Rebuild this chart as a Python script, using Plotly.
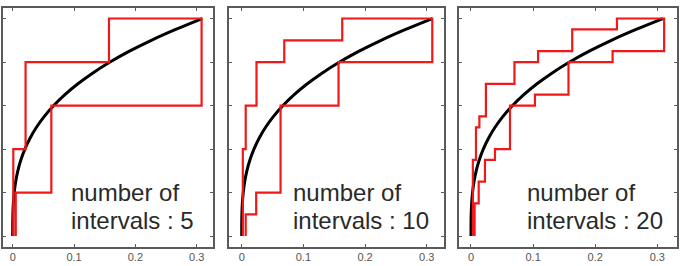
import plotly.graph_objects as go

# smooth curve (shared by all panels)
curve_x = [0, 0.00004, 0.00031, 0.00105, 0.00248, 0.00484, 0.00837, 0.01329, 0.01984,
           0.02825, 0.03875, 0.05158, 0.06696, 0.08513, 0.10633, 0.13078, 0.15872,
           0.19037, 0.22599, 0.26579, 0.309]
curve_y = [0, 0.05, 0.10, 0.15, 0.20, 0.25, 0.30, 0.35, 0.40, 0.45, 0.50, 0.55, 0.60,
           0.65, 0.70, 0.75, 0.80, 0.85, 0.90, 0.95, 1.0]

# upper / lower step bounds per panel: breakpoints (incl. end) and levels
p1_up_x = [0.001, 0.021, 0.157, 0.308]
p1_up_y = [0.4, 0.8, 1.0]
p1_lo_x = [0.005, 0.063, 0.308]
p1_lo_y = [0.2, 0.6]

p2_up_x = [0.0018, 0.0065, 0.024, 0.069, 0.163, 0.309]
p2_up_y = [0.4, 0.6, 0.8, 0.9, 1.0]
p2_lo_x = [0.0065, 0.0235, 0.063, 0.157, 0.309]
p2_lo_y = [0.1, 0.2, 0.6, 0.8]

p3_up_x = [0.003, 0.008, 0.0135, 0.024, 0.070, 0.108, 0.163, 0.235, 0.311]
p3_up_y = [0.35, 0.50, 0.55, 0.70, 0.80, 0.85, 0.95, 1.0]
p3_lo_x = [0.0058, 0.0124, 0.0225, 0.0386, 0.0628, 0.103, 0.157, 0.228, 0.311]
p3_lo_y = [0.15, 0.25, 0.35, 0.40, 0.60, 0.65, 0.80, 0.85]

interval_counts = [5, 10, 20]
line1 = "number of"
line2_prefix = "intervals : "

x_tick_vals = [0, 0.1, 0.2, 0.3]
x_tick_text = ["0", "0.1", "0.2", "0.3"]
y_tick_vals = [0, 0.2, 0.4, 0.6, 0.8, 1.0]

panels = [
    (p1_up_x, p1_up_y, p1_lo_x, p1_lo_y),
    (p2_up_x, p2_up_y, p2_lo_x, p2_lo_y),
    (p3_up_x, p3_up_y, p3_lo_x, p3_lo_y),
]

# layout geometry (pixels measured on the reference)
x_domains = [[3 / 680, 213 / 680], [229 / 680, 444 / 680], [459 / 680, 677 / 680]]
x_ranges = [[-0.0158, 0.3266], [-0.0206, 0.3280], [-0.0193, 0.3317]]
y_domain = [0.0733, 0.9688]
y_range = [-0.048, 1.047]
text_x = [0.0918, 0.0799, 0.087]


def outline(up_x, up_y, lo_x, lo_y):
    xs = [up_x[0]]
    ys = [0]
    for i, lv in enumerate(up_y):
        xs += [up_x[i], up_x[i + 1]]
        ys += [lv, lv]
    for i in reversed(range(len(lo_y))):
        xs += [lo_x[i + 1], lo_x[i]]
        ys += [lo_y[i], lo_y[i]]
    xs.append(lo_x[0])
    ys.append(0)
    return xs, ys


fig = go.Figure()
font_family = "Arial, Liberation Sans, sans-serif"
axis_col = "#5a5a5a"

for k, (ux, uy, lx, ly) in enumerate(panels):
    suffix = "" if k == 0 else str(k + 1)
    xa, ya = "x" + suffix, "y" + suffix
    ox, oy = outline(ux, uy, lx, ly)
    fig.add_trace(go.Scatter(x=curve_x, y=curve_y, mode="lines", xaxis=xa, yaxis=ya,
                             line=dict(color="#000000", width=3, shape="spline"),
                             hoverinfo="skip", showlegend=False))
    fig.add_trace(go.Scatter(x=ox, y=oy, mode="lines", xaxis=xa, yaxis=ya,
                             line=dict(color="#f01818", width=2.2), hoverinfo="skip",
                             showlegend=False))
    common = dict(showline=True, linecolor=axis_col, linewidth=1.5, mirror="ticks",
                  ticks="inside", ticklen=3, tickcolor=axis_col, tickwidth=1,
                  showgrid=False, zeroline=False, automargin=False)
    fig.layout["xaxis" + suffix] = dict(domain=x_domains[k], range=x_ranges[k],
                                        tickvals=x_tick_vals, ticktext=x_tick_text,
                                        tickfont=dict(size=11, color="#555555", family=font_family),
                                        anchor=ya, **common)
    fig.layout["yaxis" + suffix] = dict(domain=y_domain, range=y_range,
                                        tickvals=y_tick_vals, showticklabels=False,
                                        anchor=xa, **common)
    fig.add_annotation(x=text_x[k], y=0.2023, xref=xa, yref=ya, text=line1,
                       showarrow=False, xanchor="left", yanchor="middle",
                       font=dict(size=24, color="#2a2a2a", family=font_family))
    fig.add_annotation(x=text_x[k], y=0.0736, xref=xa, yref=ya,
                       text=line2_prefix + str(interval_counts[k]),
                       showarrow=False, xanchor="left", yanchor="middle",
                       font=dict(size=24, color="#2a2a2a", family=font_family))

fig.update_layout(width=680, height=266, margin=dict(l=0, r=0, t=0, b=0),
                  paper_bgcolor="white", plot_bgcolor="white")

fig.write_html("out.html")
